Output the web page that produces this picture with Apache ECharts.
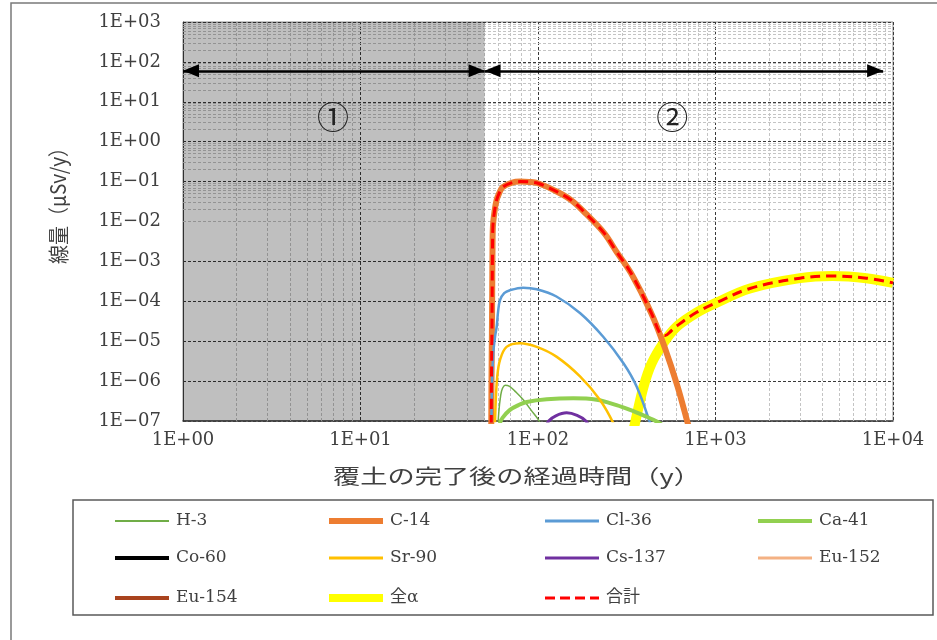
<!DOCTYPE html>
<html><head><meta charset="utf-8">
<script src="https://cdn.jsdelivr.net/npm/echarts@6/dist/echarts.min.js"></script>
<style>html,body{margin:0;padding:0;background:#fff}#c{width:937px;height:640px}</style>
</head><body><div id="c"></div>
<script>
// ---- data (time in years, dose in μSv/y) ----
const seriesNames = ['H-3','C-14','Cl-36','Ca-41','Co-60','Sr-90','Cs-137','Eu-152','Eu-154','全α','合計'];
const xTickLabels = ['1E+00','1E+01','1E+02','1E+03','1E+04'];
const yTickLabels = ['1E−07','1E−06','1E−05','1E−04','1E−03','1E−02','1E−01','1E+00','1E+01','1E+02','1E+03'];
const regionLabels = ['①','②'];

const dataH3 = [[58.9,3.2e-8],[60.1,1.6e-7],[61.7,4.5e-7],[63.1,6.6e-7],[65.2,7.9e-7],[69.2,7.4e-7],[74.1,5.6e-7],[82.6,3.4e-7],[91.2,1.9e-7],[100,1.12e-7],[107,6.3e-8]];
const dataC14 = [[54.5,3.2e-8],[54.7,1e-6],[55.0,1.6e-5],[55.2,1.6e-4],[55.4,1.5e-3],[55.7,7.2e-3],[56.9,1.8e-2],[58.5,3.5e-2],[60.3,5.0e-2],[63.1,7.2e-2],[70.8,9.3e-2],[79.4,0.100],[89.1,0.098],[100,0.091],[122,0.062],[153,0.035],[188,0.0150],[236,5.1e-3],[277,1.74e-3],[334,5.1e-4],[434,5.1e-5],[514,7.6e-6],[611,7.4e-7],[697,8.9e-8],[741,3.2e-8]];
const dataCl36 = [[54.6,3.2e-8],[55.0,6.3e-7],[56.0,5e-6],[57.3,1.3e-5],[58.5,2.3e-5],[59.6,5.6e-5],[61.1,1.07e-4],[64.5,1.6e-4],[69.5,1.9e-4],[82.6,2.2e-4],[98.4,2.0e-4],[127,1.32e-4],[173,5.0e-5],[233,1.29e-5],[303,2.8e-6],[360,7.2e-7],[428,8.9e-8],[457,3.2e-8]];
const dataCa41 = [[60.3,4e-8],[61.1,8.9e-8],[63.1,1.2e-7],[69.5,1.9e-7],[77.6,2.5e-7],[86.3,3.0e-7],[112,3.5e-7],[158,3.7e-7],[214,3.4e-7],[277,2.5e-7],[330,1.9e-7],[398,1.35e-7],[447,1.07e-7],[501,7.9e-8],[537,5e-8]];
const dataCo60 = [];
const dataSr90 = [[56.9,3.2e-8],[57.8,3.2e-7],[58.9,1.26e-6],[61.1,3.4e-6],[66.5,7.2e-6],[79.3,8.9e-6],[98.4,7.2e-6],[127,4.1e-6],[173,1.29e-6],[223,3.4e-7],[266,8.7e-8],[282,4e-8]];
const dataCs137 = [[107,5e-8],[115,1e-7],[126,1.35e-7],[145,1.6e-7],[166,1.38e-7],[186,1e-7],[204,5e-8]];
const dataEu152 = [];
const dataEu154 = [];
const dataAlpha = [[331,2.5e-8],[352,8.9e-8],[393,7.2e-7],[437,2.8e-6],[508,8.9e-6],[604,2.3e-5],[783,5.2e-5],[1000,9e-5],[1563,2.1e-4],[2992,3.8e-4],[4571,4.3e-4],[7079,3.8e-4],[10000,2.9e-4]];
const dataTotal = [[54.5,3.2e-8],[54.7,1e-6],[55.0,1.6e-5],[55.2,1.6e-4],[55.4,1.5e-3],[55.7,7.4e-3],[56.9,1.8e-2],[58.5,3.5e-2],[60.3,5.0e-2],[63.1,7.2e-2],[70.8,9.3e-2],[79.4,0.100],[89.1,0.098],[100,0.091],[122,0.062],[153,0.035],[188,0.0150],[236,5.1e-3],[277,1.74e-3],[334,5.1e-4],[434,5.2e-5],[486,1.6e-5],[520,1.38e-5],[562,1.8e-5],[604,2.4e-5],[783,5.3e-5],[1000,9e-5],[1563,2.1e-4],[2992,3.8e-4],[4571,4.3e-4],[7079,3.8e-4],[10000,2.9e-4]];

// region annotation values
const regionBoundaryT = [1, 50, 8800];
const arrowLevel = 60;
const regionLabelPos = [[7, 4.2], [570, 4.2]];

// ---- styling ----
const serif = "'DejaVu Serif','Noto Sans CJK JP',serif";
const txt = '#404040';
const styles = {
  'H-3':   {c:'#70AD47', w:1.5, lw:2},
  'C-14':  {c:'#ED7D31', w:6, lw:6},
  'Cl-36': {c:'#5B9BD5', w:2.5, lw:3},
  'Ca-41': {c:'#92D050', w:4, lw:4},
  'Co-60': {c:'#000000', w:3, lw:4},
  'Sr-90': {c:'#FFC000', w:2.5, lw:3},
  'Cs-137':{c:'#7030A0', w:3, lw:3},
  'Eu-152':{c:'#F4B183', w:2.5, lw:3},
  'Eu-154':{c:'#A9431E', w:3, lw:4},
  '全α':   {c:'#FFFF00', w:10, lw:8, z:2},
  '合計':  {c:'#FF0000', w:3, lw:3, dash:[10,6], z:4}
};
const dataByName = {'H-3':dataH3,'C-14':dataC14,'Cl-36':dataCl36,'Ca-41':dataCa41,'Co-60':dataCo60,'Sr-90':dataSr90,'Cs-137':dataCs137,'Eu-152':dataEu152,'Eu-154':dataEu154,'全α':dataAlpha,'合計':dataTotal};

// minor grid positions (2..9 × decade)
const minorX = [], minorY = [];
for (let d = 0; d < 4; d++) for (let k = 2; k <= 9; k++) minorX.push({xAxis: k * Math.pow(10, d)});
for (let d = -7; d < 3; d++) for (let k = 2; k <= 9; k++) minorY.push({yAxis: +(k * Math.pow(10, d)).toPrecision(3)});

const series = [];
series.push({
  name: '_grid', type: 'line', data: [], silent: true,
  markLine: {silent: true, z: 0.5, symbol: ['none','none'], label: {show: false}, animation: false,
    lineStyle: {color: '#c4c4c4', type: [3,2], width: 1}, emphasis: {disabled: true},
    data: minorX.concat(minorY)}
});
series.push({
  name: '_shade', type: 'line', data: [], silent: true,
  markArea: {silent: true, z: 1, itemStyle: {color: 'rgba(0,0,0,0.25)'}, label: {show: false},
    data: [[{xAxis: regionBoundaryT[0]}, {xAxis: regionBoundaryT[1]}]]}
});
seriesNames.forEach(n => {
  const s = styles[n];
  series.push({
    name: n, type: 'line', data: dataByName[n], symbol: 'none', showSymbol: false,
    smooth: 0.35, z: s.z || 3, clip: true, animation: false,
    itemStyle: {color: s.c},
    lineStyle: {color: s.c, width: s.w, type: s.dash ? s.dash : 'solid', cap: 'butt', join: 'round'}
  });
});
series.push({
  name: '_arrows', type: 'line', data: [], silent: true,
  markLine: {silent: true, z: 6, symbol: ['triangle','triangle'], symbolSize: [13, 16],
    symbolOffset: [[0, 8], [0, 8]], animation: false,
    label: {show: false}, lineStyle: {color: '#000', type: 'solid', width: 2.5}, emphasis: {disabled: true},
    data: [
      [{coord: [regionBoundaryT[0], arrowLevel]}, {coord: [regionBoundaryT[1], arrowLevel]}],
      [{coord: [regionBoundaryT[1], arrowLevel]}, {coord: [regionBoundaryT[2], arrowLevel]}]
    ]},
  markPoint: {silent: true, z: 6, symbol: 'circle', symbolSize: 1, itemStyle: {color: 'rgba(0,0,0,0)'}, animation: false,
    label: {show: true, position: 'inside', formatter: '{b}', fontFamily: "'Noto Sans CJK JP'", fontSize: 32, color: '#222'},
    data: regionLabels.map((l, i) => ({name: l, coord: regionLabelPos[i]}))}
});

// legends: one per item laid out in a 4-column grid
const legendCols = [115, 329, 545, 758];
const legendRowsY = [521, 558, 598];
const dashIcon = 'path://M0,0h10v3h-10zM15,0h10v3h-10zM30,0h10v3h-10zM45,0h9v3h-9z';
const legends = seriesNames.map((n, i) => ({
  data: [{name: n, icon: styles[n].dash ? dashIcon : 'rect'}],
  left: legendCols[i % 4], top: legendRowsY[Math.floor(i / 4)] - 10,
  itemWidth: 54, itemHeight: styles[n].lw, itemGap: 0, selectedMode: false, padding: 0,
  itemStyle: {borderWidth: 0},
  textStyle: {fontFamily: serif, fontSize: 17, color: txt, padding: [0,0,0,2], lineHeight: 20}
}));

const chart = echarts.init(document.getElementById('c'), null, {renderer: 'canvas'});
chart.setOption({
  animation: false,
  backgroundColor: '#fff',
  grid: {left: 183, right: 44, top: 22, bottom: 219, show: true, borderColor: '#8c8c8c', borderWidth: 1, containLabel: false},
  xAxis: {
    type: 'log', logBase: 10, min: 1, max: 10000, interval: 1,
    axisLine: {show: true, onZero: false, lineStyle: {color: '#404040', width: 1.5}},
    axisTick: {show: false},
    axisLabel: {formatter: v => xTickLabels[Math.round(Math.log10(v))], fontFamily: serif, fontSize: 18, color: txt, margin: 10},
    splitLine: {show: true, lineStyle: {color: '#3a3a3a', type: [3,2], width: 1}}
  },
  yAxis: {
    type: 'log', logBase: 10, min: 1e-7, max: 1000, interval: 1,
    axisLine: {show: true, lineStyle: {color: '#404040', width: 1}},
    axisTick: {show: false},
    axisLabel: {formatter: v => yTickLabels[Math.round(Math.log10(v)) + 7], fontFamily: serif, fontSize: 18, color: txt, margin: 22},
    splitLine: {show: true, lineStyle: {color: '#3a3a3a', type: [3,2], width: 1}}
  },
  legend: legends,
  graphic: [
    {type: 'rect', silent: true, z: -10, shape: {x: 11, y: 3, width: 1000, height: 700}, style: {fill: 'none', stroke: '#7a7a7a', lineWidth: 1.5}},
    {type: 'rect', silent: true, shape: {x: 73, y: 500, width: 860, height: 115}, style: {fill: 'none', stroke: '#595959', lineWidth: 1.5}},
    {type: 'text', silent: true, x: 517, y: 476, scaleX: 1.36,
      style: {text: '覆土の完了後の経過時間（y）', fontFamily: "'Noto Sans CJK JP'", fontSize: 20, fill: txt, align: 'center', verticalAlign: 'middle'}},
    {type: 'text', silent: true, x: 58, y: 201, rotation: Math.PI / 2, scaleY: 1.1,
      style: {text: '線量（μSv/y）', fontFamily: "'Noto Sans CJK JP'", fontSize: 19, fill: txt, align: 'center', verticalAlign: 'middle'}}
  ],
  series: series
});
</script>
</body></html>
